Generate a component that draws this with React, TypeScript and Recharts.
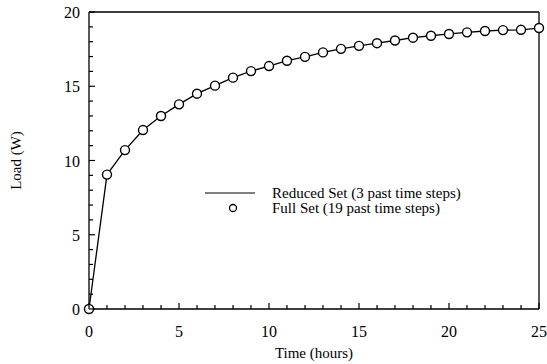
import React from 'react'
import { Label, Line, LineChart, ReferenceLine, XAxis, YAxis } from 'recharts'

// Hours and load
const hours = [
  0, 1, 2, 3, 4, 5, 6, 7, 8, 9, 10, 11, 12, 13, 14, 15, 16, 17, 18, 19, 20,
  21, 22, 23, 24, 25,
]
const reducedSet = [
  0, 9.05, 10.7, 12.05, 13.0, 13.78, 14.5, 15.04, 15.58, 16.02, 16.36, 16.72,
  16.98, 17.28, 17.52, 17.72, 17.9, 18.08, 18.27, 18.4, 18.52, 18.63, 18.72,
  18.78, 18.8, 18.92,
]
const fullSet = [
  0, 9.05, 10.7, 12.05, 13.0, 13.78, 14.5, 15.04, 15.58, 16.02, 16.36, 16.72,
  16.98, 17.28, 17.52, 17.72, 17.9, 18.08, 18.27, 18.4, 18.52, 18.63, 18.72,
  18.78, 18.8, 18.92,
]
const xTicks = hours
const yTicks = [
  0, 1, 2, 3, 4, 5, 6, 7, 8, 9, 10, 11, 12, 13, 14, 15, 16, 17, 18, 19, 20,
]
const seriesNames = ['Reduced Set (3 past time steps)', 'Full Set (19 past time steps)']

const data = hours.map((h, i) => ({
  t: h,
  reduced: reducedSet[i],
  full: fullSet[i],
}))

const FONT = '"Liberation Serif", "DejaVu Serif", serif'

// x ticks: small inward marks every hour, labels every 5
const XTick = ({ x, y, payload }: any) => {
  const v = payload.value
  return (
    <g>
      <line x1={x} y1={y} x2={x} y2={y - (v % 5 === 0 ? 6 : 4)} stroke="#000" strokeWidth={1.2} />
      {v % 5 === 0 && (
        <text x={x} y={y + 28} textAnchor="middle" fontFamily={FONT} fontSize={16} fill="#000">
          {v}
        </text>
      )}
    </g>
  )
}

const YTick = ({ x, y, payload }: any) => {
  const v = payload.value
  return (
    <g>
      <line x1={x} y1={y} x2={x + (v % 5 === 0 ? 6 : 4)} y2={y} stroke="#000" strokeWidth={1.2} />
      {v % 5 === 0 && (
        <text x={x - 9} y={y + 6} textAnchor="end" fontFamily={FONT} fontSize={16} fill="#000">
          {v}
        </text>
      )}
    </g>
  )
}

const LegendBox = () => (
  <svg width={280} height={40} style={{ position: 'absolute', left: 200, top: 183 }}>
    <line x1={5} y1={10} x2={55} y2={10} stroke="#000" strokeWidth={1.2} />
    <circle cx={33} cy={25} r={3.5} fill="#fff" stroke="#000" strokeWidth={1.3} />
    <text x={72} y={15} fontFamily={FONT} fontSize={15} fill="#000">
      {seriesNames[0]}
    </text>
    <text x={72} y={30} fontFamily={FONT} fontSize={15} fill="#000">
      {seriesNames[1]}
    </text>
  </svg>
)

export default function App() {
  return (
    <div style={{ position: 'absolute', left: 0, top: 0, width: 547, height: 364, background: '#fff' }}>
      <LineChart
        width={547}
        height={364}
        data={data}
        margin={{ top: 12, right: 8, left: 0, bottom: 0 }}
      >
        <XAxis
          dataKey="t"
          type="number"
          domain={[0, 25]}
          ticks={xTicks}
          interval={0}
          height={55}
          tickSize={0}
          tickMargin={0}
          tickLine={false}
          tick={<XTick />}
          axisLine={{ stroke: '#000', strokeWidth: 1.3 }}
        >
          <Label
            value="Time (hours)"
            position="insideBottom"
            offset={6}
            style={{ fontFamily: FONT, fontSize: 15, fill: '#000' }}
          />
        </XAxis>
        <YAxis
          type="number"
          domain={[0, 20]}
          ticks={yTicks}
          interval={0}
          width={89}
          tickSize={0}
          tickMargin={0}
          tickLine={false}
          tick={<YTick />}
          axisLine={{ stroke: '#000', strokeWidth: 1.3 }}
        >
          <Label
            value="Load (W)"
            angle={-90}
            position="insideLeft"
            offset={16}
            style={{ fontFamily: FONT, fontSize: 15, fill: '#000', textAnchor: 'middle' }}
          />
        </YAxis>
        <ReferenceLine y={20} stroke="#000" strokeWidth={1.3} />
        <ReferenceLine x={25} stroke="#000" strokeWidth={1.3} />
        <Line
          dataKey="reduced"
          name={seriesNames[0]}
          stroke="#000"
          strokeWidth={1.3}
          dot={false}
          isAnimationActive={false}
        />
        <Line
          dataKey="full"
          name={seriesNames[1]}
          stroke="none"
          dot={{ r: 4.5, fill: '#fff', stroke: '#000', strokeWidth: 1.4 }}
          isAnimationActive={false}
        />
      </LineChart>
      <LegendBox />
    </div>
  )
}
